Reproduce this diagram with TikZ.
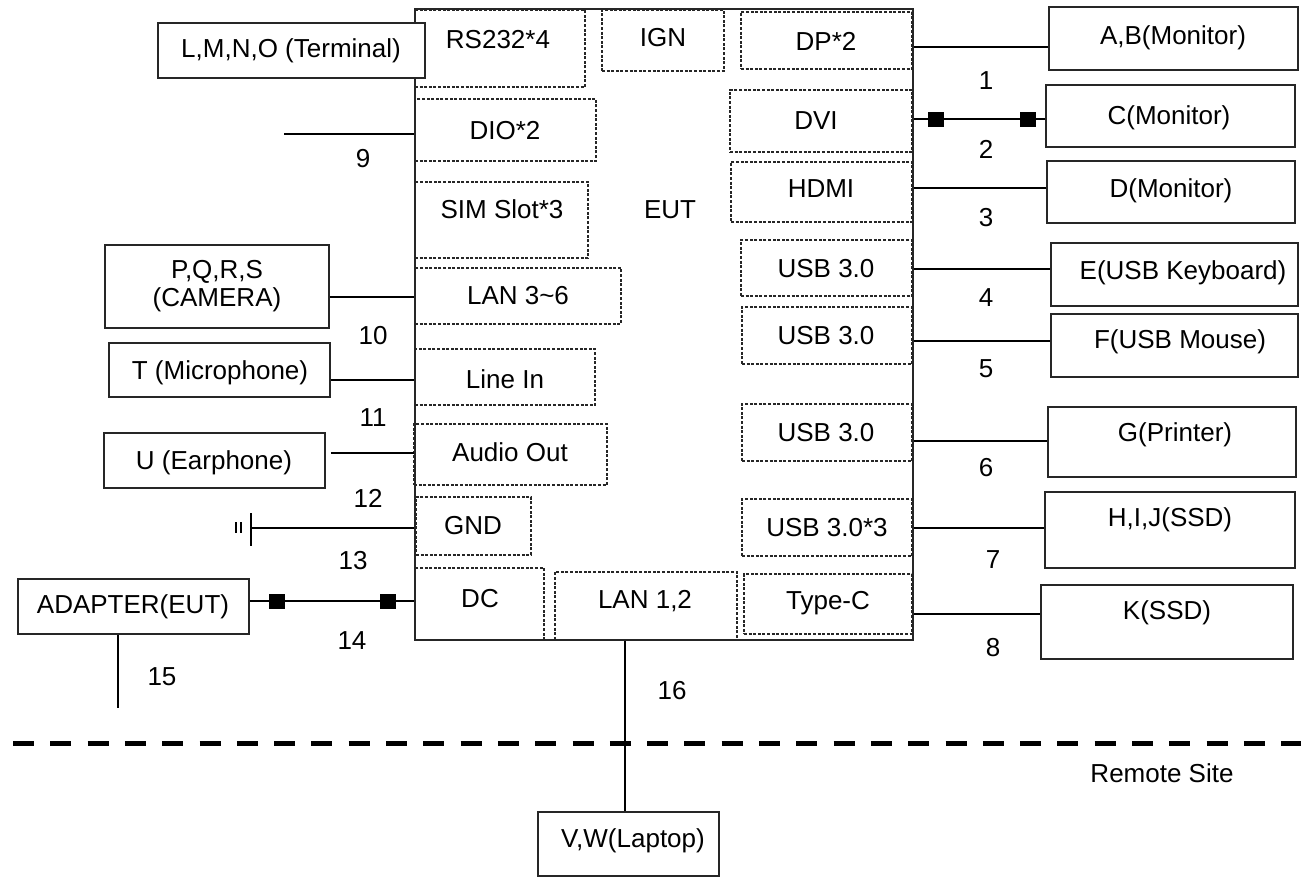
\documentclass[tikz,border=0pt]{standalone}
\usepackage{fontspec}
\setmainfont{Liberation Sans}
\usetikzlibrary{fit}
\begin{document}
\begin{tikzpicture}[x=1pt,y=-1pt,
  solidbox/.style={draw=black!85, line width=1.5pt, inner sep=0pt},
  portbox/.style={draw=black!85, line width=1.2pt, dash pattern=on 3pt off 1.6pt, inner sep=0pt},
  conn/.style={draw=black, line width=2pt},
  txt/.style={font=\fontsize{26}{28}\selectfont, inner sep=0pt, align=center},
  plug/.style={fill=black, minimum width=16pt, minimum height=15pt, inner sep=0pt},
]
\useasboundingbox (0,0) rectangle (1301,879);

% EUT outer box
\node[solidbox, fit={(415,9) (913,640)}] (eut) {};
\node[txt] at (670,210) {EUT};

% port boxes
\node[portbox, fit={(415,10) (585,87)}] (rs) {};
\node[txt] at (498,40) {RS232*4};
\node[portbox, fit={(602,10) (724,71)}] (ign) {};
\node[txt] at (663,38) {IGN};
\node[portbox, fit={(741,12) (912,69)}] (dp) {};
\node[txt] at (826,41) {DP*2};
\node[portbox, fit={(415,99) (596,161)}] (dio) {};
\node[txt] at (505,131) {DIO*2};
\node[portbox, fit={(415,182) (588,258)}] (sim) {};
\node[txt] at (502,209) {SIM Slot*3};
\node[portbox, fit={(415,268) (621,324)}] (lan36) {};
\node[txt] at (518,296) {LAN 3\textasciitilde 6};
\node[portbox, fit={(415,349) (595,405)}] (linein) {};
\node[txt] at (505,379) {Line In};
\node[portbox, fit={(414,424) (607,485)}] (audio) {};
\node[txt] at (510,452) {Audio Out};
\node[portbox, fit={(416,497) (531,555)}] (gnd) {};
\node[txt] at (473,526) {GND};
\node[portbox, fit={(415,568) (544,640)}] (dc) {};
\node[txt] at (480,599) {DC};
\node[portbox, fit={(555,572) (737,640)}] (lan12) {};
\node[txt] at (645,601) {LAN 1,2};
\node[portbox, fit={(744,574) (912,634)}] (typec) {};
\node[txt] at (828,603) {Type-C};
\node[portbox, fit={(730,90) (912,152)}] (dvi) {};
\node[txt] at (816,121) {DVI};
\node[portbox, fit={(731,162) (912,222)}] (hdmi) {};
\node[txt] at (821,189) {HDMI};
\node[portbox, fit={(741,240) (912,296)}] (usba) {};
\node[txt] at (826,269) {USB 3.0};
\node[portbox, fit={(742,307) (912,364)}] (usbb) {};
\node[txt] at (826,336) {USB 3.0};
\node[portbox, fit={(742,404) (912,461)}] (usbc) {};
\node[txt] at (826,433) {USB 3.0};
\node[portbox, fit={(742,499) (912,556)}] (usbd) {};
\node[txt] at (827,528) {USB 3.0*3};

% peripheral boxes
\node[solidbox, fill=white, fit={(158,23) (425,78)}] (lmno) {};
\node[txt] at (291,51) {L,M,N,O (Terminal)};
\node[solidbox, fit={(105,245) (329,328)}] (pqrs) {};
\node[txt] at (217,286) {P,Q,R,S\\(CAMERA)};
\node[solidbox, fit={(109,343) (330,397)}] (tmic) {};
\node[txt] at (220,373) {T (Microphone)};
\node[solidbox, fit={(104,433) (325,488)}] (uear) {};
\node[txt] at (214,463) {U (Earphone)};
\node[solidbox, fit={(18,579) (249,634)}] (adapter) {};
\node[txt] at (133,607) {ADAPTER(EUT)};
\node[solidbox, fit={(1049,7) (1298,70)}] (ab) {};
\node[txt] at (1173,38) {A,B(Monitor)};
\node[solidbox, fit={(1046,85) (1295,147)}] (cmon) {};
\node[txt] at (1169,118) {C(Monitor)};
\node[solidbox, fit={(1047,161) (1295,223)}] (dmon) {};
\node[txt] at (1171,191) {D(Monitor)};
\node[solidbox, fit={(1051,243) (1298,306)}] (ekb) {};
\node[txt] at (1183,273) {E(USB Keyboard)};
\node[solidbox, fit={(1051,314) (1298,377)}] (fmouse) {};
\node[txt] at (1180,342) {F(USB Mouse)};
\node[solidbox, fit={(1048,407) (1296,477)}] (gprn) {};
\node[txt] at (1175,435) {G(Printer)};
\node[solidbox, fit={(1045,492) (1295,568)}] (hij) {};
\node[txt] at (1170,520) {H,I,J(SSD)};
\node[solidbox, fit={(1041,585) (1293,659)}] (kssd) {};
\node[txt] at (1167,613) {K(SSD)};
\node[solidbox, fit={(538,812) (719,876)}] (vw) {};
\node[txt] at (633,841) {V,W(Laptop)};

\node[txt] at (1162,773) {Remote Site};

% helper coordinates for connector heights
\coordinate (y1) at (0,47);
\coordinate (y2) at (0,119);
\coordinate (y3) at (0,188);
\coordinate (y4) at (0,269);
\coordinate (y5) at (0,341);
\coordinate (y6) at (0,441);
\coordinate (y7) at (0,528);
\coordinate (y8) at (0,614);
\coordinate (y9) at (0,134);
\coordinate (y10) at (0,297);
\coordinate (y11) at (0,380);
\coordinate (y12) at (0,453);
\coordinate (y14) at (0,601);
\coordinate (dioend) at (284,134);
\coordinate (gnd0) at (251,528);
\coordinate (x15) at (118,708);
\coordinate (x16) at (625,0);

% right connectors
\draw[conn] (eut.east |- y1) -- (ab.west |- y1);
\draw[conn] (eut.east |- y2) -- (cmon.west |- y2);
\draw[conn] (eut.east |- y3) -- (dmon.west |- y3);
\draw[conn] (eut.east |- y4) -- (ekb.west |- y4);
\draw[conn] (eut.east |- y5) -- (fmouse.west |- y5);
\draw[conn] (eut.east |- y6) -- (gprn.west |- y6);
\draw[conn] (eut.east |- y7) -- (hij.west |- y7);
\draw[conn] (eut.east |- y8) -- (kssd.west |- y8);
\node[plug] (pl1) at (936,119) {};
\node[plug] (pl2) at (1028,119) {};

% left connectors
\draw[conn] (dioend) -- (eut.west |- y9);
\draw[conn] (pqrs.east |- y10) -- (eut.west |- y10);
\draw[conn] (tmic.east |- y11) -- (eut.west |- y11);
\draw[conn, shorten <=5pt] (uear.east |- y12) -- (eut.west |- y12);
\draw[conn] (gnd0) -- (eut.west |- y7);
\draw[conn] (adapter.east |- y14) -- (eut.west |- y14);
\node[plug] (pl3) at (277,601) {};
\node[plug] (pl4) at (388,601) {};
\draw[conn] (x15 |- adapter.south) -- (x15);
\draw[conn] (x16 |- lan12.south) -- (x16 |- vw.north);

% ground symbol
\draw[conn] (251,513) -- (251,546);
\draw[line width=1.5pt] (236,522) -- (236,533) (241,522) -- (241,533);

% remote site separator
\draw[line width=5pt, dash pattern=on 21pt off 16.3pt] (13,743) -- (1301,743);

% cable numbers
\node[txt] at (986,81) {1};
\node[txt] at (986,149) {2};
\node[txt] at (986,218) {3};
\node[txt] at (986,298) {4};
\node[txt] at (986,369) {5};
\node[txt] at (986,468) {6};
\node[txt] at (993,560) {7};
\node[txt] at (993,648) {8};
\node[txt] at (363,159) {9};
\node[txt] at (373,336) {10};
\node[txt] at (373,418) {11};
\node[txt] at (368,498) {12};
\node[txt] at (353,561) {13};
\node[txt] at (352,641) {14};
\node[txt] at (162,677) {15};
\node[txt] at (672,691) {16};
\end{tikzpicture}
\end{document}
